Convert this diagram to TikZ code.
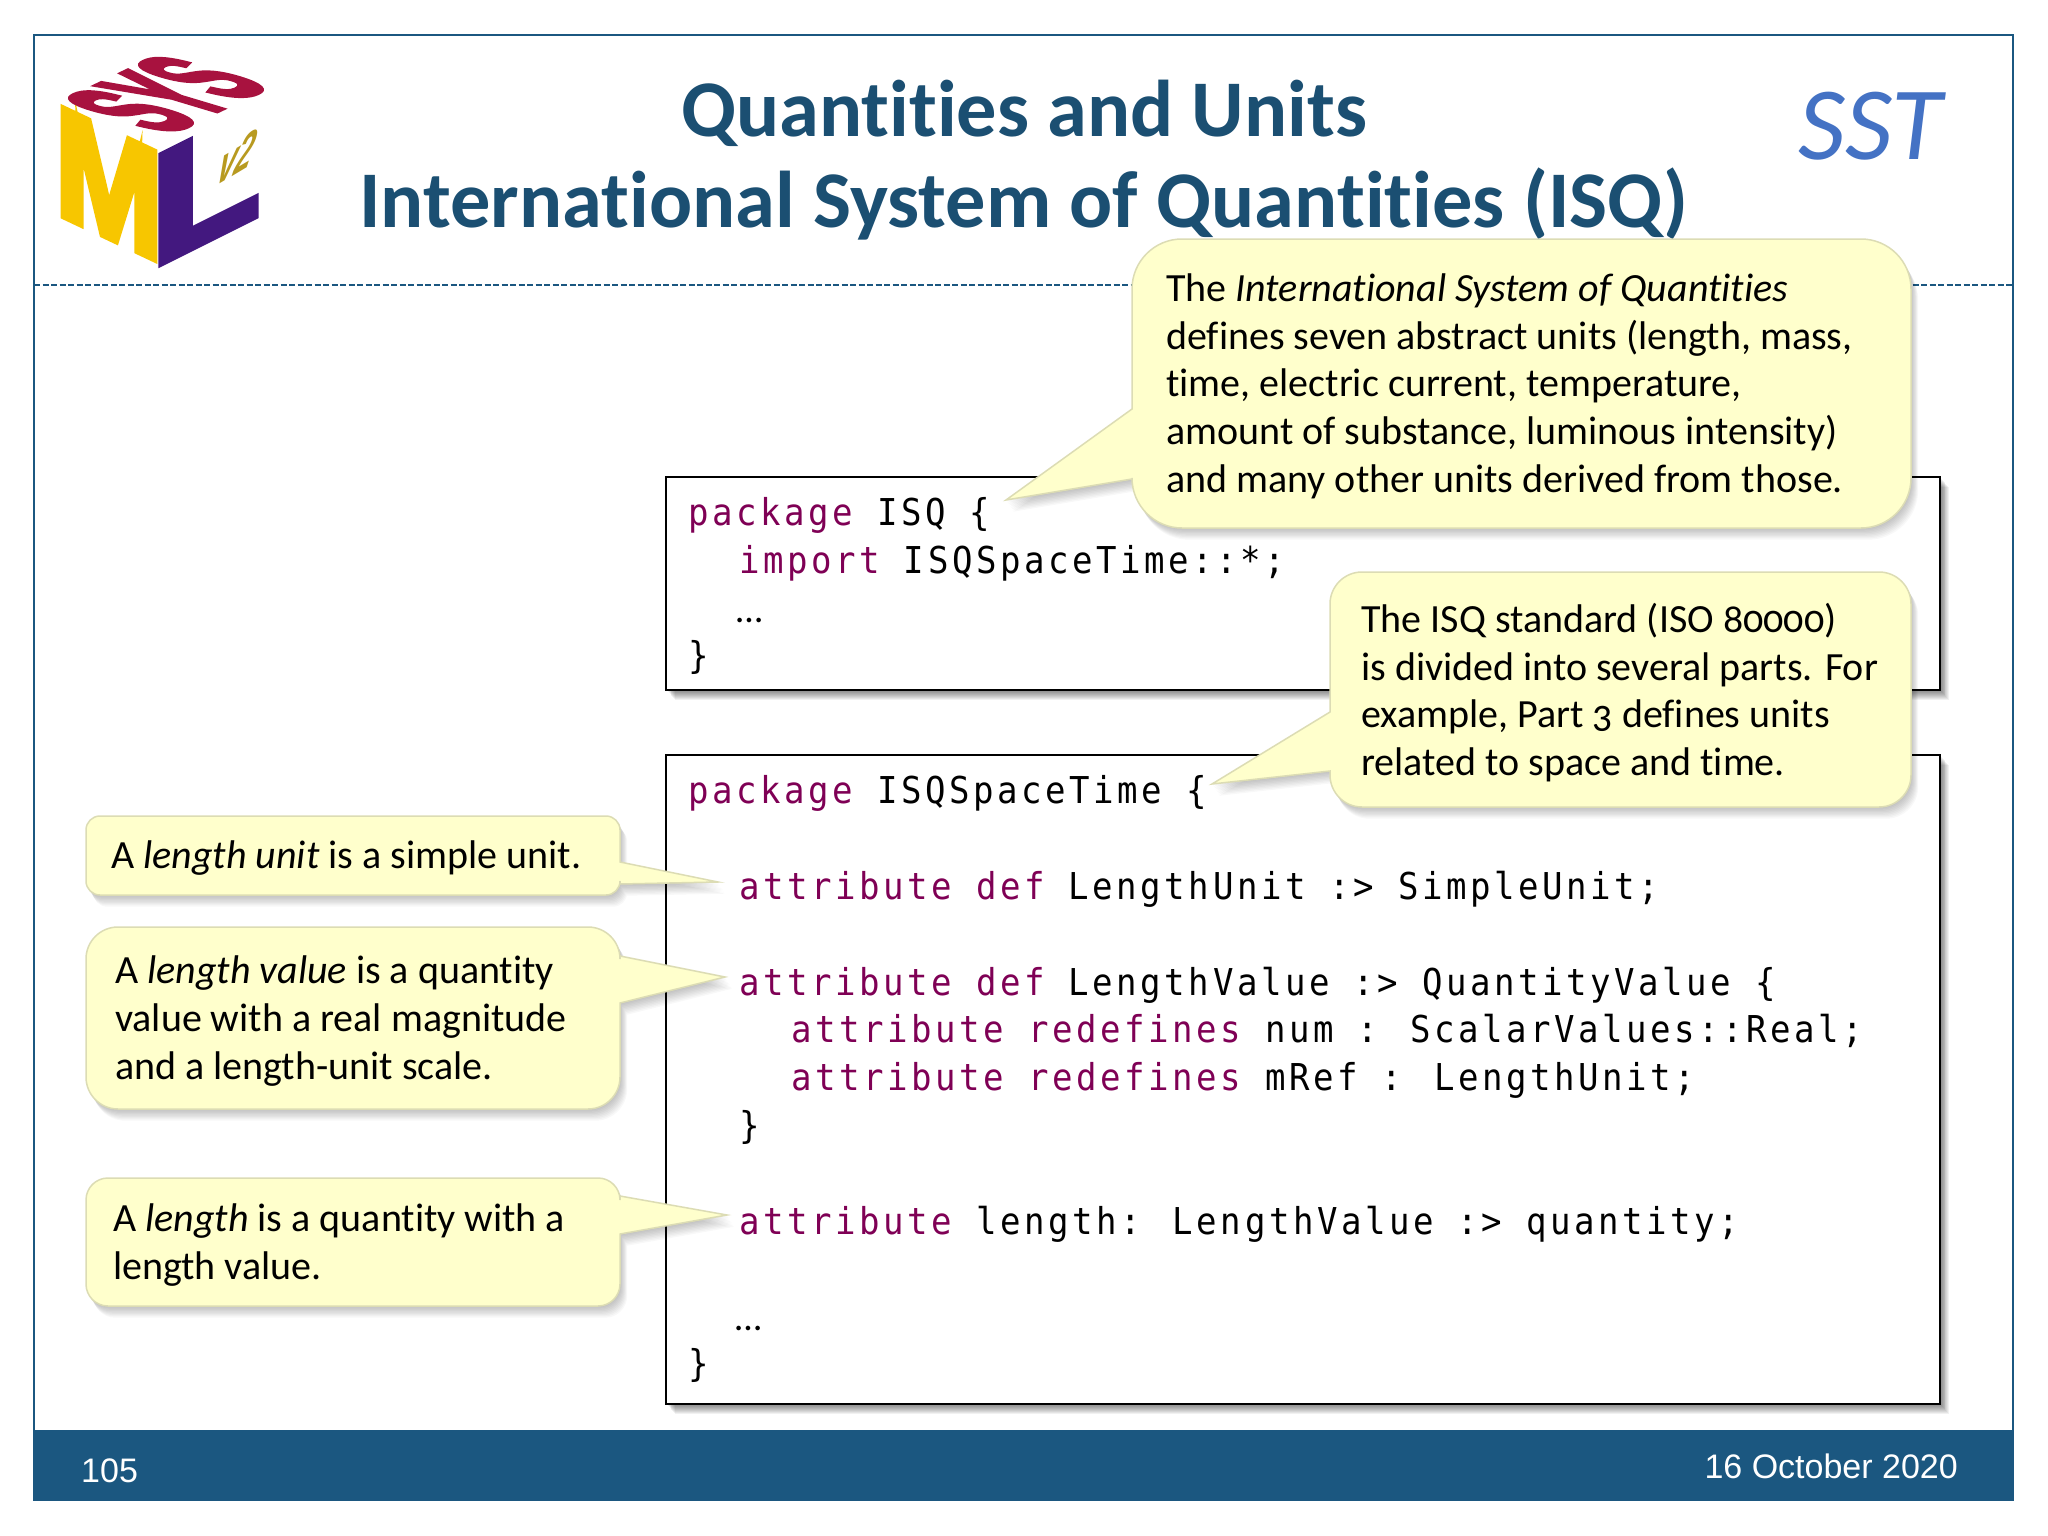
\documentclass[tikz,border=0pt]{standalone}
\usepackage{fontspec}
\setmainfont{Carlito}[Numbers=OldStyle,Ligatures=NoCommon]
\newfontfamily\codefont{DejaVu Sans Mono}[FakeStretch=0.92,LetterSpace=9.6]
\newfontfamily\footfont{Liberation Sans}
\newfontfamily\logofont{Liberation Sans}[BoldFeatures={FakeBold=5}]
\definecolor{framec}{HTML}{1B5780}
\definecolor{titlec}{HTML}{1B4F72}
\definecolor{sstc}{HTML}{4472C4}
\definecolor{kw}{HTML}{7F0055}
\definecolor{yell}{HTML}{FFFFCC}
\definecolor{yelledge}{HTML}{DCDCB4}
\definecolor{logoM}{HTML}{F7C600}
\definecolor{logoL}{HTML}{43187F}
\definecolor{logoS}{HTML}{A8123F}
\definecolor{logoV}{HTML}{B89A20}
\newcommand{\kwd}[1]{\textcolor{kw}{#1}}
\newcommand{\calloutL}[9]{% x1 y1 x2 y2 r by1 by2 tipx tipy : pointer on left
  \foreach \i in {1,...,9}{\fill[black,opacity=.028,shift={(\i*.8,\i*1.3)},rounded corners=#5] (#1,#6) -- (#1,#2) -- (#3,#2) -- (#3,#4) -- (#1,#4) [sharp corners] -- (#1,#7) -- (#8,#9) -- cycle;}
  \filldraw[draw=yelledge,fill=yell,line width=1.5pt,rounded corners=#5] (#1,#6) -- (#1,#2) -- (#3,#2) -- (#3,#4) -- (#1,#4) [sharp corners] -- (#1,#7) -- (#8,#9) -- cycle;}
\newcommand{\calloutR}[9]{% pointer on right
  \foreach \i in {1,...,9}{\fill[black,opacity=.028,shift={(\i*.8,\i*1.3)},rounded corners=#5] (#3,#7) -- (#3,#4) -- (#1,#4) -- (#1,#2) -- (#3,#2) [sharp corners] -- (#3,#6) -- (#8,#9) -- cycle;}
  \filldraw[draw=yelledge,fill=yell,line width=1.5pt,rounded corners=#5] (#3,#7) -- (#3,#4) -- (#1,#4) -- (#1,#2) -- (#3,#2) [sharp corners] -- (#3,#6) -- (#8,#9) -- cycle;}
\newcommand{\codebox}[4]{%
  \foreach \i in {1,...,10}{\fill[black,opacity=.055,shift={(\i*.9,\i*1.0)}] (#1,#2) rectangle (#3,#4);}
  \filldraw[draw=black,fill=white,line width=2pt] (#1,#2) rectangle (#3,#4);}
\tikzset{
  x=1pt,y=-1pt,
  codeline/.style={anchor=base west,inner sep=0pt,font=\codefont\fontsize{37}{47.7}\selectfont},
  note/.style={anchor=north west,inner sep=0pt,align=left,font=\fontsize{40}{47.7}\selectfont},
  titleline/.style={anchor=base,inner sep=0pt,text=titlec,font=\fontsize{80.4}{90}\selectfont\bfseries},
  foot/.style={inner sep=0pt,text=white,font=\footfont\fontsize{34}{40}\selectfont},
  logotext/.style={anchor=base west,inner sep=0pt,transform shape,font=\logofont\fontsize{100}{100}\selectfont\bfseries}
}
\begin{document}
\begin{tikzpicture}
\useasboundingbox (0,0) rectangle (2048,1536);
\fill[white] (0,0) rectangle (2048,1536);
% frame
\draw[framec,line width=2pt] (34,1430) -- (34,35) -- (2013,35) -- (2013,1430);
\fill[framec] (33,1430) rectangle (2014,1501);
\draw[framec,line width=1.5pt,dash pattern=on 6pt off 2.5pt] (34,285) -- (2013,285);
% logo
\begin{scope}[shift={(64,216)},cm={1.29,-.61,0,1.55,(0,0)}]
  \node[logotext,text=logoM] (lm) at (-7,0) {M};
\end{scope}
\begin{scope}[shift={(163,262)},cm={1.78,.89,0,1.56,(0,0)}]
  \node[logotext,text=logoL] (ll) at (-7,0) {L};
\end{scope}
\begin{scope}[shift={(166,135)},cm={.525,.25,-1.536,.46,(0,0)}]
  \node[logotext,text=logoS] (ls) at (0,0) {SYS};
\end{scope}
\begin{scope}[shift={(215,187)},cm={.45,.27,.2,.8,(0,0)}]
  \node[logotext,text=logoV,font=\footfont\fontsize{70}{70}\selectfont\bfseries\itshape] (lv) at (0,0) {v2};
\end{scope}
% title
\node[titleline] (t1) at (1024,136) {Quantities and Units};
\node[titleline] (t2) at (1024,227) {International System of Quantities (ISQ)};
\node[anchor=base west,inner sep=0pt,text=sstc,font=\fontsize{104}{104}\selectfont\itshape] (sst) at (1798,160) {SST};
% code boxes
\codebox{666}{477}{1940}{690}
\codebox{666}{755}{1940}{1404}
\node[codeline] (a1) at (688,525.5) {\kwd{package} ISQ \{};
\node[codeline] (a2) at (739,573.5) {\kwd{import} ISQSpaceTime::*;};
\node[anchor=base west,inner sep=0pt,font=\fontsize{38}{47}\selectfont] (a3) at (736,622) {…};
\node[codeline] (a4) at (688,668) {\}};
\node[codeline] (b1) at (688,803.5) {\kwd{package} ISQSpaceTime \{};
\node[codeline] (b2) at (739,899.5) {\kwd{attribute def} LengthUnit :> SimpleUnit;};
\node[codeline] (b3) at (739,995.5) {\kwd{attribute def} LengthValue :> QuantityValue \{};
\node[codeline] (b4) at (791,1042.5) {\kwd{attribute redefines} num : ScalarValues::Real;};
\node[codeline] (b5) at (791,1090.5) {\kwd{attribute redefines} mRef : LengthUnit;};
\node[codeline] (b6) at (739,1138) {\}};
\node[codeline] (b7) at (739,1234.5) {\kwd{attribute} length: LengthValue :> quantity;};
\node[anchor=base west,inner sep=0pt,font=\fontsize{38}{47}\selectfont] (b8) at (735,1330) {…};
\node[codeline] (b9) at (688,1376) {\}};
% callouts
\calloutL{1132}{239}{1911}{528}{50}{409}{479}{1006}{500}
\node[note] (n1) at (1166,268) {\strut The \textit{International System of Quantities}\\defines seven abstract units (length, mass,\\time, electric current, temperature,\\amount of substance, luminous intensity)\\and many other units derived from those.};
\calloutL{1330}{572}{1911}{807}{32}{712}{771}{1212}{784}
\node[note] (n2) at (1361,599) {\strut The ISQ standard (ISO 80000)\\is divided into several parts. For\\example, Part 3 defines units\\related to space and time.};
\calloutR{86}{816}{620}{895}{14}{862}{884}{718}{882}
\node[note] (n3) at (111,835) {\strut A \textit{length unit} is a simple unit.};
\calloutR{86}{927}{620}{1109}{32}{956}{1003}{725}{977}
\node[note] (n4) at (115,950) {\strut A \textit{length value} is a quantity\\value with a real magnitude\\and a length-unit scale.};
\calloutR{86}{1178}{620}{1306}{22}{1196}{1234}{727}{1215}
\node[note] (n5) at (113,1198) {\strut A \textit{length} is a quantity with a\\length value.};
% footer
\node[foot,anchor=base west] (pg) at (81,1482) {105};
\node[foot,anchor=base east] (dt) at (1958,1478) {16 October 2020};
\end{tikzpicture}
\end{document}
